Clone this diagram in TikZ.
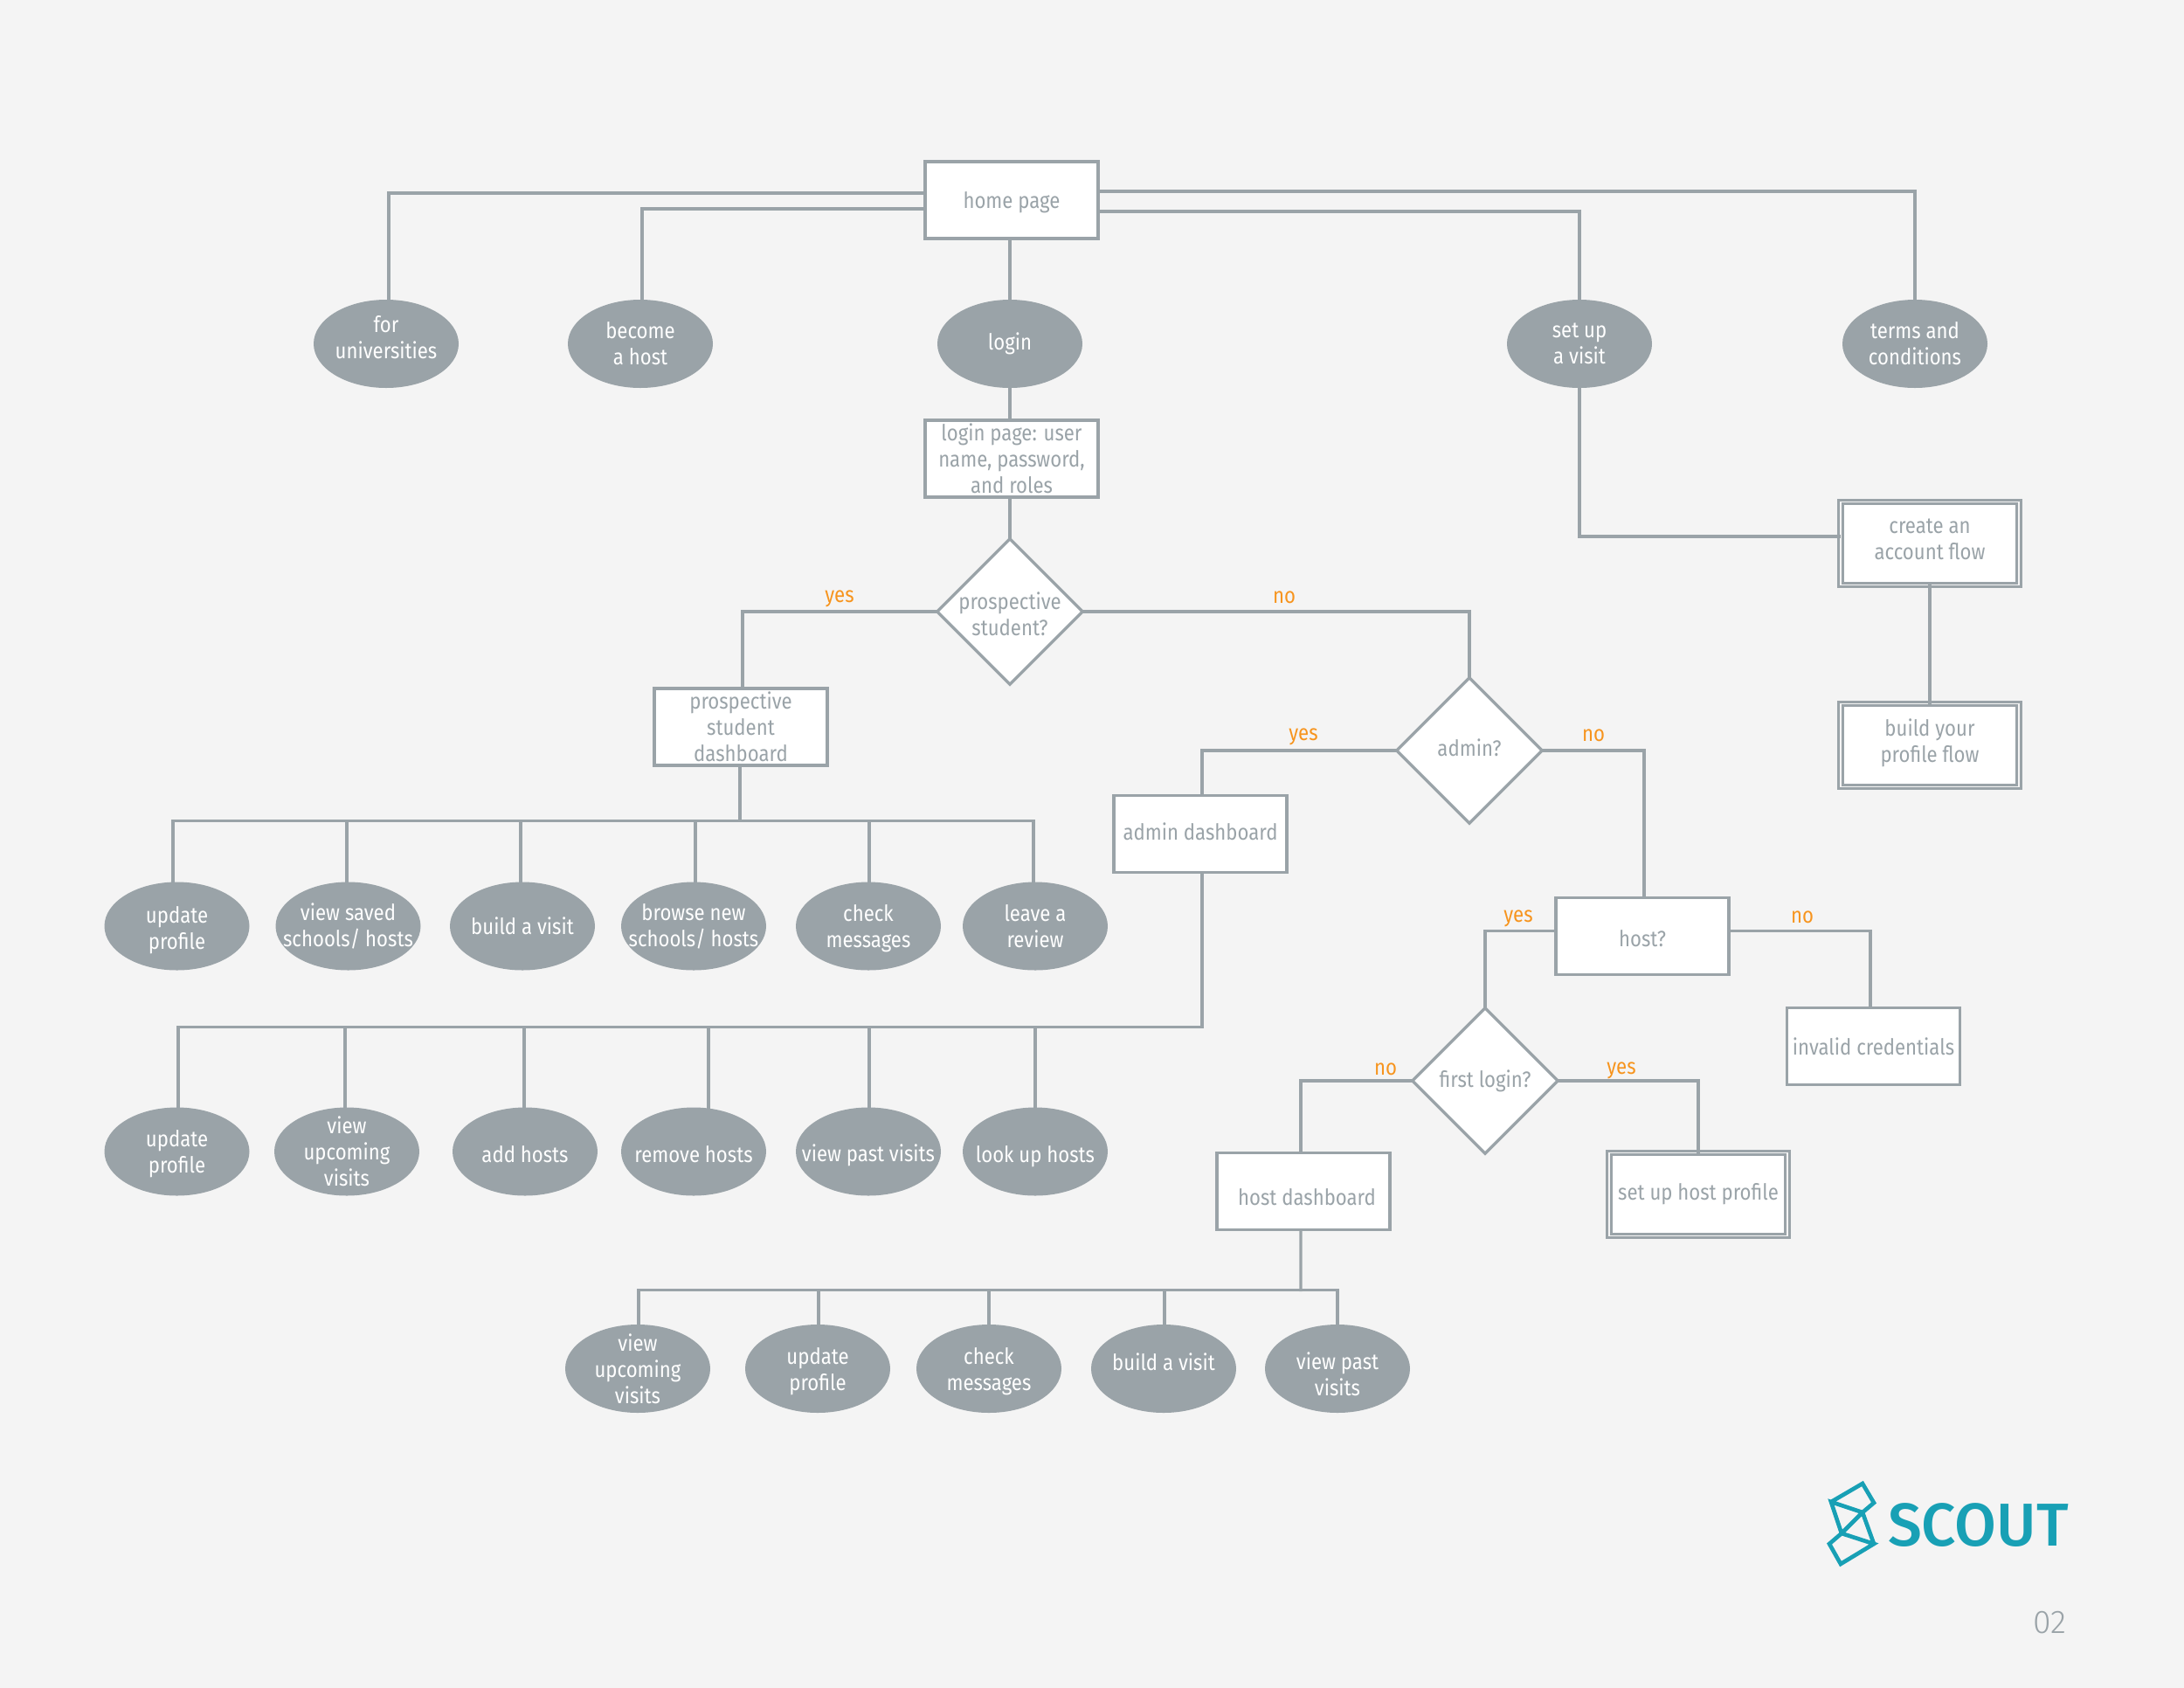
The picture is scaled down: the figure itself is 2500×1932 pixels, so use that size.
\documentclass[tikz,border=0pt]{standalone}
\usepackage{fontspec}
\setmainfont{Fira Sans}[FakeStretch=0.875]
\newfontfamily\scoutfont{Fira Sans Medium}
\newfontfamily\numfont{Fira Sans Light}
\usepackage{tikz}
\usetikzlibrary{shapes.geometric}
\definecolor{slate}{HTML}{9AA3A8}
\definecolor{paper}{HTML}{F4F4F4}
\definecolor{answercol}{HTML}{F7941D}
\definecolor{scoutcol}{HTML}{18A0B5}
\newcommand{\drop}[1]{\rule{0pt}{#1}}
\newcommand{\lift}[1]{\rule[-#1]{0pt}{#1}}
\tikzset{
  conn/.style={draw=slate,line width=2.5pt,line cap=rect},
  label text/.style={font=\fontsize{19}{22.5}\selectfont,align=center,inner sep=-25pt},
  pagebox/.style={label text,draw=slate,line width=2.5pt,fill=white,text=slate,minimum width=148.5pt,minimum height=66pt},
  flowbox/.style={label text,draw=slate,line width=2.1pt,double=paper,double distance=1.3pt,fill=white,text=slate,minimum width=153pt,minimum height=71.25pt},
  oval/.style={label text,ellipse,fill=slate,text=white,minimum width=124.5pt,minimum height=75.75pt},
  choice/.style={label text,diamond,aspect=1,draw=slate,line width=2.5pt,fill=white,text=slate,minimum width=126pt,minimum height=126pt},
  answer/.style={font=\fontsize{19}{22.5}\selectfont,inner sep=0pt,text=answercol}
}
\begin{document}
\begin{tikzpicture}[x=0.75pt,y=0.75pt,yscale=-1,xscale=1]
\useasboundingbox (0,0) rectangle (2500,1932);
\fill [paper] (0,0) rectangle (2500,1932);

% Page Nodes
\draw (1158,229) node (home) [pagebox] {\drop{18.7pt}home page};
\draw (1158,525) node (loginpage) [pagebox] {login page: user\\name, password,\\and roles};
\draw (848,832) node (studentdash) [pagebox] {prospective\\student\\dashboard};
\draw (1374,954.5) node (admindash) [pagebox] {admin dashboard\lift{4.8pt}};
\draw (1880,1071.5) node (hostq) [pagebox] {\drop{18.7pt}host?};
\draw (2144.5,1197.5) node (invalid) [pagebox] {invalid credentials};
\draw (1492,1363.5) node (hostdash) [pagebox] {\drop{23.5pt}\hspace*{6pt}host dashboard};

% Flow Nodes
\draw (2209,622) node (account) [flowbox] {create an\\account flow\lift{7.2pt}};
\draw (2209,853) node (profile) [flowbox] {build your\\profile flow\lift{8.8pt}};
\draw (1944,1367) node (hostprofile) [flowbox] {set up host profile};

% Decision Nodes
\draw (1156,700) node (prospective) [choice] {\drop{18.7pt}prospective\\student?};
\draw (1682,859) node (adminq) [choice] {admin?\lift{4.8pt}};
\draw (1700,1237) node (firstlogin) [choice] {first login?};

% Top Row
\draw (442,393.5) node (universities) [oval] {for\\universities\lift{10.8pt}};
\draw (733,393.5) node (becomehost) [oval] {become\\a host};
\draw (1156,393.5) node (login) [oval] {login};
\draw (1808,393.5) node (setup) [oval] {set up\\a visit};
\draw (2192,393.5) node (terms) [oval] {terms and\\conditions};

% Student Row
\draw (202.5,1060) node (stupdate) [oval] {\drop{21pt}update\\profile};
\draw (398.5,1060) node (stsaved) [oval] {view saved\\schools/ hosts};
\draw (598,1060) node (stbuild) [oval] {build a visit};
\draw (794,1060) node (stbrowse) [oval] {browse new\\schools/ hosts};
\draw (994,1060) node (stcheck) [oval] {\drop{18.7pt}check\\messages};
\draw (1185,1060) node (streview) [oval] {leave a\\review};

% Admin Row
\draw (202.5,1318) node (adupdate) [oval] {\drop{18.7pt}update\\profile};
\draw (397,1318) node (adupcoming) [oval] {view\\upcoming\\visits};
\draw (601,1318) node (adadd) [oval] {\drop{18.7pt}add hosts};
\draw (794,1318) node (adremove) [oval] {\drop{18.7pt}remove hosts};
\draw (994,1318) node (adpast) [oval] {\drop{21pt}view past visits};
\draw (1185,1318) node (adlook) [oval] {\drop{23.5pt}look up hosts};

% Host Row
\draw (730,1566.5) node (houpcoming) [oval] {view\\upcoming\\visits};
\draw (936,1566.5) node (houpdate) [oval] {\drop{18.7pt}update\\profile};
\draw (1132,1566.5) node (hocheck) [oval] {\drop{18.7pt}check\\messages};
\draw (1332,1566.5) node (hobuild) [oval] {build a visit\lift{12pt}};
\draw (1531,1566.5) node (hopast) [oval] {\drop{23.5pt}view past\\visits};

% Bus Points
\coordinate (studentbus) at (847,939.5);
\coordinate (adminbus) at (1376,1175.5);
\coordinate (hostbus) at (1489,1476.5);

%Straight Lines
\draw [conn] ([yshift=-5.9pt]home.west) -| ([xshift=2.2pt]universities.north);
\draw [conn] ([yshift=7.6pt]home.west) -| ([xshift=1.5pt]becomehost.north);
\draw [conn] ([xshift=-1.5pt]home.south) -- (login.north);
\draw [conn] ([yshift=9.8pt]home.east) -| (setup.north);
\draw [conn] ([yshift=-7.4pt]home.east) -| (terms.north);
\draw [conn] (login.south) -- ([xshift=-1.5pt]loginpage.north);
\draw [conn] ([xshift=-1.5pt]loginpage.south) -- (prospective.north);
\draw [conn] (setup.south) |- ([yshift=-6pt]account.west);
\draw [conn] (account.south) -- (profile.north);
\draw [conn] (prospective.west) -| ([xshift=1.5pt]studentdash.north);
\draw [conn] (prospective.east) -| (adminq.north);
\draw [conn] (adminq.west) -| ([xshift=1.5pt]admindash.north);
\draw [conn] (adminq.east) -| ([xshift=1.5pt]hostq.north);
\draw [conn] ([yshift=-4.5pt]hostq.west) -| (firstlogin.north);
\draw [conn] ([yshift=-4.5pt]hostq.east) -| ([xshift=-2.6pt]invalid.north);
\draw [conn] (firstlogin.west) -| ([xshift=-2.2pt]hostdash.north);
\draw [conn] (firstlogin.east) -| (hostprofile.north);

%Student Branches
\draw [conn] ([xshift=-0.75pt]studentdash.south) -- (studentbus);
\draw [conn] ([xshift=-3.4pt]stupdate.north) |- (studentbus);
\draw [conn] ([xshift=-1.1pt]stsaved.north) |- (studentbus);
\draw [conn] ([xshift=-1.5pt]stbuild.north) |- (studentbus);
\draw [conn] ([xshift=1.5pt]stbrowse.north) |- (studentbus);
\draw [conn] ([xshift=0.75pt]stcheck.north) |- (studentbus);
\draw [conn] ([xshift=-1.5pt]streview.north) |- (studentbus);

%Admin Branches
\draw [conn] ([xshift=1.5pt]admindash.south) -- (adminbus);
\draw [conn] ([xshift=1.1pt]adupdate.north) |- (adminbus);
\draw [conn] ([xshift=-1.5pt]adupcoming.north) |- (adminbus);
\draw [conn] ([xshift=-0.75pt]adadd.north) |- (adminbus);
\draw [conn] ([xshift=12.75pt]adremove.north) |- (adminbus);
\draw [conn] ([xshift=0.75pt]adpast.north) |- (adminbus);
\draw [conn] (adlook.north) |- (adminbus);

%Host Branches
\draw [conn] ([xshift=-2.2pt]hostdash.south) -- (hostbus);
\draw [conn] ([xshift=0.75pt]houpcoming.north) |- (hostbus);
\draw [conn] ([xshift=0.75pt]houpdate.north) |- (hostbus);
\draw [conn] (hocheck.north) |- (hostbus);
\draw [conn] ([xshift=0.75pt]hobuild.north) |- (hostbus);
\draw [conn] (hopast.north) |- (hostbus);

% Text Node
\draw (961,685.5) node (yesa) [answer] {yes};
\draw (1470,684) node (noa) [answer] {no};
\draw (1492,843.5) node (yesb) [answer] {yes};
\draw (1824,842) node (nob) [answer] {no};
\draw (1738,1051.5) node (yesc) [answer] {yes};
\draw (2063,1050) node (noc) [answer] {no};
\draw (1586,1224) node (nod) [answer] {no};
\draw (1856,1225.5) node (yesd) [answer] {yes};

% Logo
\draw [draw=scoutcol,line width=3.5pt,line join=miter] (2096,1719) -- (2132,1698) -- (2145,1720) -- (2132,1731) -- (2108,1755) -- (2094,1767) -- (2107,1790) -- (2145,1767) -- (2108,1755) -- (2096,1719) -- (2132,1731) -- (2145,1767);
\draw (2264.5,1746) node (scout) [inner sep=0pt,text=scoutcol,font=\fontsize{52}{60}\selectfont\scoutfont] {SCOUT};
\draw (2346,1857) node (pagenum) [inner sep=0pt,text=slate,font=\fontsize{28}{32}\selectfont\numfont] {02};
\end{tikzpicture}
\end{document}
